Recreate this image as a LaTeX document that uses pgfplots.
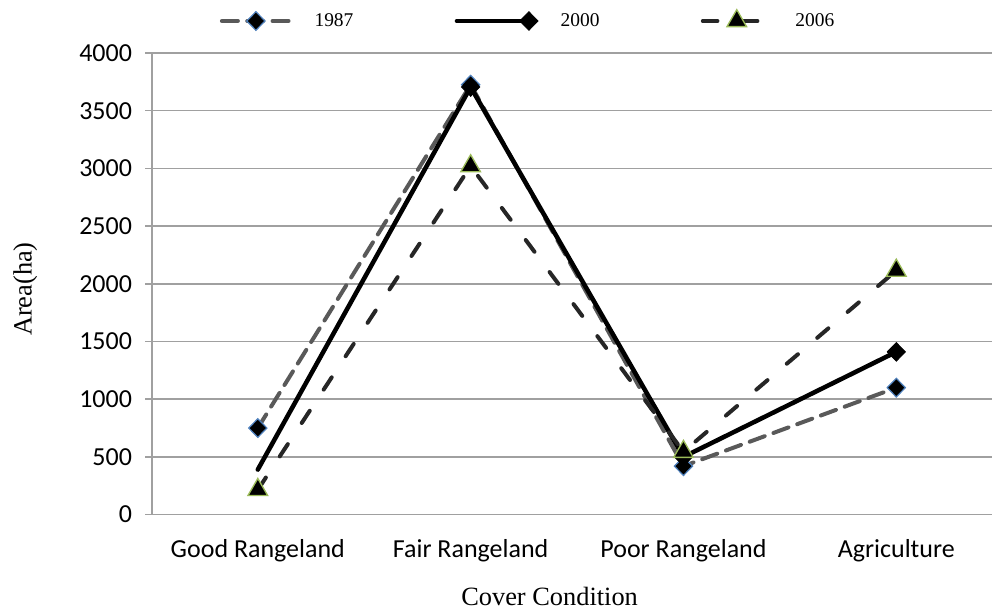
\documentclass[border=0pt]{standalone}
\usepackage{pgfplots}
\pgfplotsset{compat=1.18}
\usepackage{fontspec}
\setmainfont{Liberation Serif}
\newfontfamily\calibri{Carlito}
\definecolor{c87}{HTML}{595959}
\definecolor{c06}{HTML}{262626}
\definecolor{mblue}{HTML}{4F81BD}
\definecolor{mgreen}{HTML}{9BBB59}
\definecolor{gridc}{HTML}{A0A0A0}
\pgfplotsset{endmark legend/.style={legend image code/.code={\draw[##1] plot coordinates {(0pt,0pt) (54pt,0pt)};}}}
\begin{document}
\begin{tikzpicture}
\begin{axis}[name=ax,
  scale only axis, width=630.75pt, height=346.5pt,
  xmin=-0.4977, xmax=3.451, ymin=0, ymax=4000,
  xtick={0,1,2,3},
  xticklabels={Good Rangeland,Fair Rangeland,Poor Rangeland,Agriculture},
  ytick={0,500,...,4000},
  axis x line=bottom, axis y line=left,
  axis line style={-, draw=gridc, line width=1.1pt},
  ymajorgrids, major grid style={draw=gridc, line width=1.1pt},
  xtick style={draw=none},
  ytick style={draw=gridc, line width=1.1pt},
  ytick align=outside, major tick length=5pt,
  ticklabel style={font=\calibri\fontsize{19.5}{23}\selectfont},
  /pgf/number format/assume math mode=true,
  /pgf/number format/1000 sep={},
  yticklabel style={inner xsep=0pt, xshift=-9.75pt},
  xticklabel style={inner ysep=0pt, yshift=-16pt},
  clip=false,
  legend columns=3,
  legend style={at={(axis description cs:0.4465,1.0714)}, anchor=center,
    draw=none, fill=none, font=\fontsize{14.6}{16}\selectfont,
    nodes={inner sep=0pt},
    /tikz/every odd column/.append style={column sep=17pt},
    /tikz/every even column/.append style={column sep=76pt}},
  legend image code/.code={\draw[mark repeat=2,mark phase=2,#1]
    plot coordinates {(0pt,0pt) (25.5pt,0pt) (51pt,0pt)};},
]
\addplot[c87, line width=3pt, line cap=round, dash pattern=on 12pt off 7pt,
  mark=diamond*, mark size=7pt,
  mark options={solid, fill=black, draw=mblue, line width=0.9pt, xscale=1.3}]
  coordinates {(0,750) (1,3725) (2,420) (3,1100)};
\addlegendentry{1987}
\addplot[black, line width=3.4pt, line cap=round, mark=diamond*, mark size=7pt,
  mark indices={2,3,4},
  mark options={solid, fill=black, draw=black, line width=0.6pt, xscale=1.3},
  endmark legend]
  coordinates {(0,390) (1,3705) (2,500) (3,1410)};
\addlegendentry{2000}
\addplot[c06, line width=3pt, line cap=round, dash pattern=on 11pt off 19pt,
  mark=triangle*, mark size=8.5pt,
  mark options={solid, fill=black, draw=mgreen, line width=1pt}]
  coordinates {(0,215) (1,3020) (2,545) (3,2115)};
\addlegendentry{2006}
\end{axis}
\node[rotate=90, font=\fontsize{19.8}{22}\selectfont] at ([xshift=-95pt, yshift=-4pt]ax.west) {Area(ha)};
\node[font=\fontsize{19.8}{22}\selectfont] at ([xshift=298.5pt, yshift=-61.5pt]ax.south west) {Cover Condition};
\path ([xshift=-114pt, yshift=-72.75pt]ax.south west) rectangle ([yshift=39.75pt]ax.north east);
\end{tikzpicture}
\end{document}
